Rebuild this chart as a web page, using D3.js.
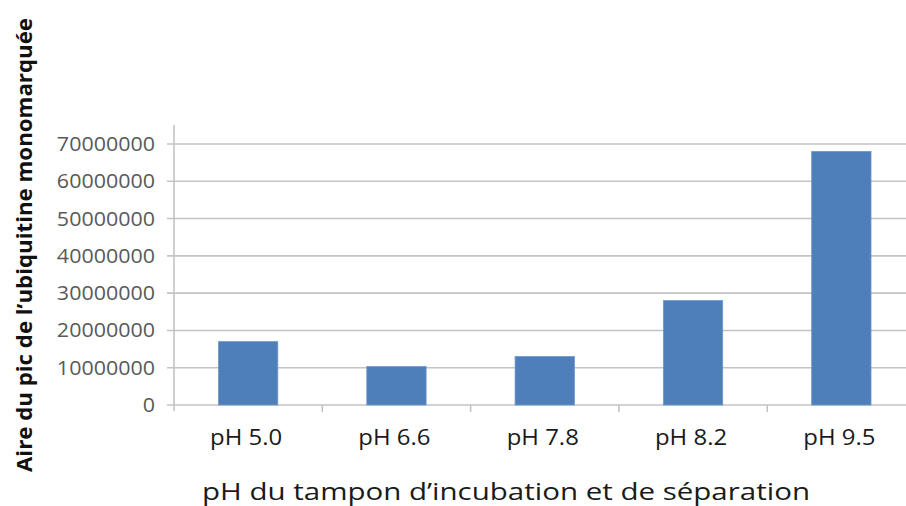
<!DOCTYPE html>
<html>
<head>
<meta charset="utf-8">
<script src="https://cdn.jsdelivr.net/npm/d3@7"></script>
<style>
  html, body { margin: 0; padding: 0; background: #ffffff; }
  svg { display: block; }
</style>
</head>
<body>
<svg id="chart" width="906" height="506"></svg>
<script>
// Peak area of mono-labelled ubiquitin by buffer pH
const categories = ["pH 5.0", "pH 6.6", "pH 7.8", "pH 8.2", "pH 9.5"];
const peakArea = [17000000, 10300000, 13000000, 28000000, 68000000];
const yTicks = [0, 10000000, 20000000, 30000000, 40000000, 50000000, 60000000, 70000000];
const xTitle = "pH du tampon d\u2019incubation et de s\u00e9paration";
const yTitle = "Aire du pic de l\u2019ubiquitine monomarqu\u00e9e";

const svg = d3.select("#chart");
const plot = { left: 174, right: 915.5, top: 125, bottom: 405 };

const x = d3.scaleBand()
  .domain(categories)
  .range([plot.left, plot.right])
  .paddingInner(0.6)
  .paddingOuter(0.3);

const y = d3.scaleLinear()
  .domain([0, 70000000])
  .range([plot.bottom, 144]);

const gridColor = "#c3c3c3";
const font = "'Open Sans', 'Noto Sans', sans-serif";

// Widen a text horizontally by a factor, keeping its anchor point fixed
function widen(sel, factor) {
  sel.each(function () {
    const natural = this.getComputedTextLength();
    d3.select(this)
      .attr("textLength", natural * factor)
      .attr("lengthAdjust", "spacingAndGlyphs");
  });
}

// Horizontal gridlines with short outward ticks
svg.append("g")
  .selectAll("line")
  .data(yTicks)
  .join("line")
  .attr("x1", plot.left - 7)
  .attr("x2", 906)
  .attr("y1", d => y(d))
  .attr("y2", d => y(d))
  .attr("stroke", gridColor)
  .attr("stroke-width", 1.6);

// Value axis line
svg.append("line")
  .attr("x1", plot.left).attr("x2", plot.left)
  .attr("y1", plot.top).attr("y2", plot.bottom + 6)
  .attr("stroke", gridColor)
  .attr("stroke-width", 1.6);

// Category separator ticks
const step = x.step();
const sepX = d3.range(1, categories.length).map(i => plot.left + i * step);
svg.append("g")
  .selectAll("line")
  .data(sepX)
  .join("line")
  .attr("x1", d => d).attr("x2", d => d)
  .attr("y1", plot.bottom).attr("y2", plot.bottom + 7)
  .attr("stroke", gridColor)
  .attr("stroke-width", 1.6);

// Bars
svg.append("g")
  .selectAll("rect")
  .data(categories)
  .join("rect")
  .attr("x", d => x(d))
  .attr("width", x.bandwidth())
  .attr("y", (d, i) => y(peakArea[i]))
  .attr("height", (d, i) => y(0) - y(peakArea[i]))
  .attr("fill", "#4f7fbb")
  .attr("stroke", "#6d97cb")
  .attr("stroke-width", 0.8);

// Value tick labels
svg.append("g")
  .selectAll("text")
  .data(yTicks)
  .join("text")
  .attr("x", 155)
  .attr("y", d => y(d))
  .attr("dy", "0.36em")
  .attr("text-anchor", "end")
  .attr("font-family", font)
  .attr("font-size", 19.5)
  .attr("fill", "#595959")
  .text(d => d3.format("d")(d))
  .call(widen, 1.1);

// Category labels
svg.append("g")
  .selectAll("text")
  .data(categories)
  .join("text")
  .attr("x", d => x(d) + x.bandwidth() / 2 - 2)
  .attr("y", 445)
  .attr("text-anchor", "middle")
  .attr("font-family", font)
  .attr("font-size", 21)
  .attr("fill", "#1a1a1a")
  .text(d => d)
  .call(widen, 1.14);

// Axis titles
svg.append("text")
  .attr("x", 506)
  .attr("y", 500)
  .attr("text-anchor", "middle")
  .attr("font-family", font)
  .attr("font-size", 23.5)
  .attr("fill", "#1a1a1a")
  .attr("textLength", 608)
  .attr("lengthAdjust", "spacingAndGlyphs")
  .text(xTitle);

svg.append("text")
  .attr("transform", "translate(32,245) rotate(-90)")
  .attr("text-anchor", "middle")
  .attr("font-family", font)
  .attr("font-size", 21.5)
  .attr("font-weight", "bold")
  .attr("fill", "#111111")
  .attr("textLength", 454)
  .attr("lengthAdjust", "spacingAndGlyphs")
  .text(yTitle);
</script>
</body>
</html>
